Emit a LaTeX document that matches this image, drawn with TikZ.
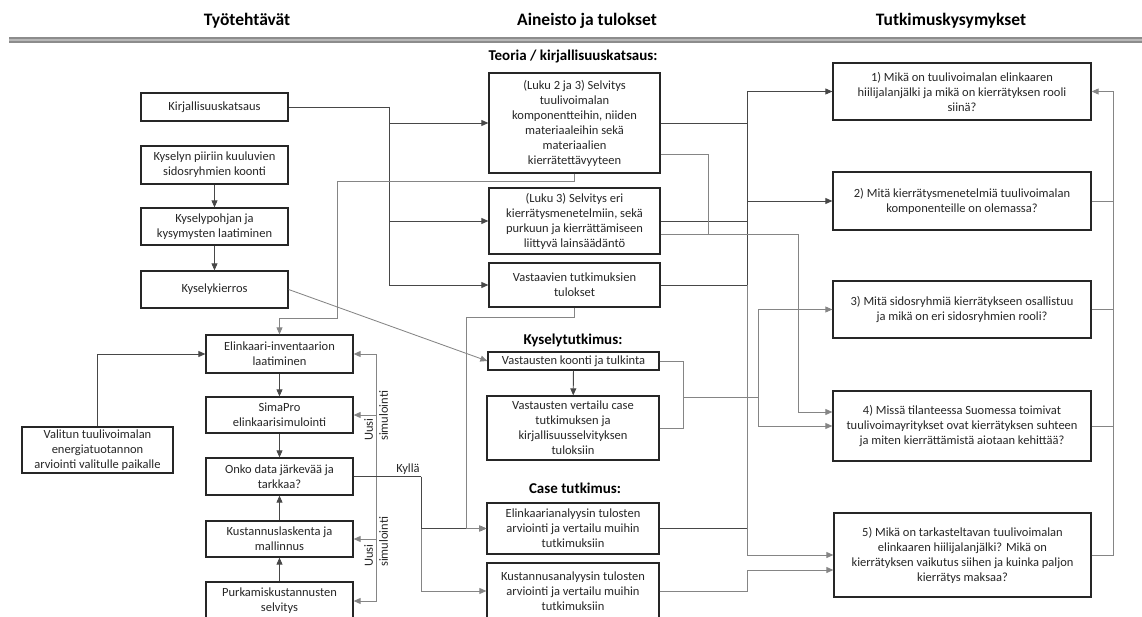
\documentclass[tikz,border=0pt]{standalone}
\usepackage{fontspec}
\setmainfont{Carlito}
\usetikzlibrary{arrows.meta,calc}

\begin{document}
\begin{tikzpicture}[x=1pt,y=-1pt,
  box/.style={draw=black!85, line width=1.3pt, fill=white, align=center, inner sep=0pt,
              text=black!85, font=\fontsize{12.5}{15}\selectfont},
  conn/.style={draw=black!72, line width=0.85pt},
  lite/.style={draw=black!48, line width=0.85pt},
  arr/.style={-{Triangle[length=7pt,width=6pt]}},
  head/.style={font=\fontsize{17.5}{20}\selectfont\bfseries, text=black, inner sep=0pt},
  sect/.style={font=\fontsize{15}{18}\selectfont\bfseries, text=black, inner sep=0pt},
  lbl/.style={font=\fontsize{12.5}{15}\selectfont, text=black!85, inner sep=0pt},
]
\useasboundingbox (0,0) rectangle (1142,617);

% column headings and rule
\node[head] (h1) at (247,21) {Työtehtävät};
\node[head] (h2) at (587,21) {Aineisto ja tulokset};
\node[head] (h3) at (951,21) {Tutkimuskysymykset};
\fill[black!45] (9,37) rectangle (1142,43);
\fill[black!28] (9,39.4) rectangle (1142,40.6);

% section headings of the middle column
\node[sect] (s1) at (573,57) {Teoria / kirjallisuuskatsaus:};
\node[sect] (s2) at (573,340) {Kyselytutkimus:};
\node[sect] (s3) at (575,488) {Case tutkimus:};

% work tasks, first column
\node[box, minimum width=147pt, minimum height=28pt] (kirj) at (214.5,107) {Kirjallisuuskatsaus};
\node[box, minimum width=147pt, minimum height=38pt] (kyselyn) at (214.5,165) {Kyselyn piiriin kuuluvien\\sidosryhmien koonti};
\node[box, minimum width=147pt, minimum height=37pt] (pohja) at (214.5,226.5) {Kyselypohjan ja\\kysymysten laatiminen};
\node[box, minimum width=147pt, minimum height=37pt] (kierros) at (214.5,289.5) {Kyselykierros};

% work tasks, second column
\node[box, minimum width=147pt, minimum height=38pt] (inv) at (279.5,354) {Elinkaari-inventaarion\\laatiminen};
\node[box, minimum width=147pt, minimum height=36pt] (sima) at (279.5,415) {SimaPro\\elinkaarisimulointi};
\node[box, minimum width=147pt, minimum height=37pt] (onko) at (279.5,476.5) {Onko data järkevää ja\\tarkkaa?};
\node[box, minimum width=147pt, minimum height=36pt] (kust) at (279.5,539) {Kustannuslaskenta ja\\mallinnus};
\node[box, minimum width=147pt, minimum height=38pt] (purk) at (279.5,601) {Purkamiskustannusten\\selvitys};
\node[box, minimum width=151pt, minimum height=46pt] (valitun) at (97.5,450) {Valitun tuulivoimalan\\energiatuotannon\\arviointi valitulle paikalle};

% material and results
\node[box, minimum width=171pt, minimum height=100pt] (t1) at (574.5,123) {(Luku 2 ja 3) Selvitys\\tuulivoimalan\\komponentteihin, niiden\\materiaaleihin sekä\\materiaalien\\kierrätettävyyteen};
\node[box, minimum width=171pt, minimum height=66pt] (t2) at (574.5,221) {(Luku 3) Selvitys eri\\kierrätysmenetelmiin, sekä\\purkuun ja kierrättämiseen\\liittyvä lainsäädäntö};
\node[box, minimum width=171pt, minimum height=44pt] (t3) at (574.5,285) {Vastaavien tutkimuksien\\tulokset};
\node[box, minimum width=171pt, minimum height=18pt] (k1) at (573.5,361) {Vastausten koonti ja tulkinta};
\node[box, minimum width=172pt, minimum height=64pt] (k2) at (573,428) {Vastausten vertailu case\\tutkimuksen ja\\kirjallisuusselvityksen\\tuloksiin};
\node[box, minimum width=172pt, minimum height=51pt] (c1) at (573,528.5) {Elinkaarianalyysin tulosten\\arviointi ja vertailu muihin\\tutkimuksiin};
\node[box, minimum width=172pt, minimum height=56pt] (c2) at (573,591) {Kustannusanalyysin tulosten\\arviointi ja vertailu muihin\\tutkimuksiin};

% research questions
\node[box, minimum width=258pt, minimum height=57pt] (q1) at (962,91.5) {1) Mikä on tuulivoimalan elinkaaren\\hiilijalanjälki ja mikä on kierrätyksen rooli\\siinä?};
\node[box, minimum width=258pt, minimum height=58pt] (q2) at (962,201) {2) Mitä kierrätysmenetelmiä tuulivoimalan\\komponenteille on olemassa?};
\node[box, minimum width=258pt, minimum height=57pt] (q3) at (962,309.5) {3) Mitä sidosryhmiä kierrätykseen osallistuu\\ja mikä on eri sidosryhmien rooli?};
\node[box, minimum width=258pt, minimum height=70pt] (q4) at (962,426) {4) Missä tilanteessa Suomessa toimivat\\tuulivoimayritykset ovat kierrätyksen suhteen\\ja miten kierrättämistä aiotaan kehittää?};
\node[box, minimum width=257pt, minimum height=84pt] (q5) at (962.5,555) {5) Mikä on tarkasteltavan tuulivoimalan\\elinkaaren hiilijalanjälki? Mikä on\\kierrätyksen vaikutus siihen ja kuinka paljon\\kierrätys maksaa?};

% routing points
\coordinate (kb) at (389,107);
\coordinate (j1) at (337,181);
\coordinate (j2) at (279.5,318);
\coordinate (fb) at (376,476.5);
\coordinate (ky) at (421,476.5);
\coordinate (tv) at (466,317);
\coordinate (bus) at (747,0);
\coordinate (kj) at (683,397);
\coordinate (kq) at (758,397);
\coordinate (rb) at (1113,0);

% literature review feeds the theory boxes
\draw[conn,arr] (kirj.east) -- (kb) |- (t3.west);
\draw[conn,arr] (kb) |- (t1.west);
\draw[conn,arr] (kb) |- (t2.west);

% survey chain
\draw[conn,arr] (kyselyn) -- (pohja);
\draw[conn,arr] (pohja) -- (kierros);
\draw[lite,arr] (kierros.east) -- (k1.west);

% life cycle chain
\draw[lite,arr] (t1.south) |- (j1) |- (j2) -- (inv.north);
\draw[conn,arr] (valitun.north) |- (inv.west);
\draw[conn,arr] (inv) -- (sima);
\draw[conn,arr] (sima) -- (onko);
\draw[conn,arr] (kust) -- (onko);
\draw[conn,arr] (purk) -- (kust);

% new simulation loop
\draw[lite,arr] (fb) |- (inv.east);
\draw[lite,arr] (fb) |- (sima.east);
\draw[lite,arr] (fb) |- (kust.east);
\draw[lite,arr] (fb) |- (purk.east);
\node[lbl, rotate=90, align=left, anchor=west] (u1) at (376,441) {Uusi\\simulointi};
\node[lbl, rotate=90, align=left, anchor=west] (u2) at (376,567) {Uusi\\simulointi};

% accepted data goes to the case study
\draw[conn] (onko.east) -- (ky);
\draw[lite,arr] (ky) |- (c2.west);
\draw[conn,arr] (ky) |- (c1.west);
\node[lbl] (kylla) at (408,469) {Kyllä};
\draw[lite,arr] (t3.south) |- (tv) |- (c1.west);

% survey results
\draw[conn,arr] (k1) -- (k2);
\draw[lite] (k1.east) -| (kj);
\draw[lite] (k2.east) -| (kj);
\draw[lite] (kj) -- (kq);
\draw[lite,arr] (kq) |- (q3.west);
\draw[lite,arr] (kq) |- (q4.west);

% theory results to the questions
\draw[conn,arr] (t1.east) -| (q1.west -| bus) -- (q1.west);
\draw[conn,arr] (t2.east) -| (q2.west -| bus) -- (q2.west);
\draw[conn] (q1.west -| bus) -- (t3.east -| bus);
\draw[conn] (t3.east) -- (t3.east -| bus);
\draw[lite,arr] (t3.east -| bus) |- (q5.west);
\draw[conn] (c1.east) -- (c1.east -| bus);
\draw[lite,arr] (c2.east) -| ($(q5.west)+(-86,15)$) -- ($(q5.west)+(0,15)$);
\draw[lite] ($(t1.south east)+(0,-19)$) -| ($(t2.south east)+(48,-20)$);
\draw[lite,arr] ($(t2.south east)+(0,-20)$) -| ($(q4.west)+(-34,-14)$) -- ($(q4.west)+(0,-14)$);

% all questions lead back to the first one
\draw[lite,arr] (q5.east) -| (q1.east -| rb) -- (q1.east);
\draw[lite] (q2.east) -- (q2.east -| rb);
\draw[lite] (q3.east) -- (q3.east -| rb);
\draw[lite] (q4.east) -- (q4.east -| rb);
\end{tikzpicture}
\end{document}
